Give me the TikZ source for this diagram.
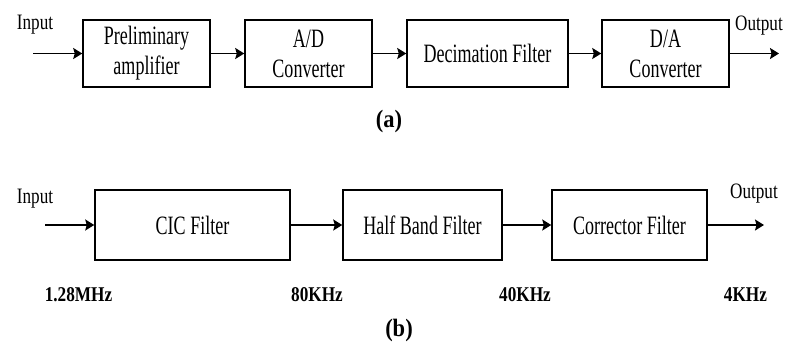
\documentclass[tikz,border=0pt]{standalone}
\usepackage{fontspec}
\setmainfont[FakeStretch=0.68]{Liberation Serif}
\newfontfamily\iofont[FakeStretch=0.78]{Liberation Serif}
\newfontfamily\freqfont[FakeStretch=0.82]{Liberation Serif}
\newfontfamily\capfont[FakeStretch=0.9]{Liberation Serif}
\usetikzlibrary{arrows.meta}
\begin{document}
\begin{tikzpicture}[x=1pt,y=-1pt,
  blk/.style={draw,line width=1.5pt,inner sep=0pt,align=center,
    font=\fontsize{26.5}{30}\selectfont},
  conn/.style={line width=1.5pt,-{Stealth[length=9pt,width=11pt,inset=1.5pt]}},
  iotext/.style={font=\iofont\fontsize{22}{24}\selectfont,inner sep=0pt},
  freq/.style={font=\freqfont\bfseries\fontsize{21}{24}\selectfont,inner sep=0pt},
  captext/.style={font=\capfont\bfseries\fontsize{25}{28}\selectfont,inner sep=0pt}]
\useasboundingbox (0,0) rectangle (786,351);
% row (a)
\node[blk,minimum width=127pt,minimum height=67pt] (pa) at (146.5,53.5) {Preliminary\\amplifier};
\node[blk,minimum width=127pt,minimum height=67pt] (ad) at (308.5,53.5) {A/D\\Converter};
\node[blk,minimum width=161pt,minimum height=67pt] (df) at (487.5,53.5) {Decimation Filter};
\node[blk,minimum width=127pt,minimum height=67pt] (da) at (665.5,53.5) {D/A\\Converter};
\coordinate (ina) at (33,53.5);
\coordinate (outa) at (779,53.5);
\draw[conn] (ina) -- (pa.west);
\draw[conn] (pa.east) -- (ad.west);
\draw[conn] (ad.east) -- (df.west);
\draw[conn] (df.east) -- (da.west);
\draw[conn] (da.east) -- (outa);
\node[iotext] (inputa) at (35,25) {Input};
\node[iotext] (outputa) at (759,26) {Output};
\node[captext] (capa) at (389,121) {(a)};
% row (b)
\node[blk,minimum width=195pt,minimum height=70pt] (cic) at (192.5,225) {CIC Filter};
\node[blk,minimum width=159pt,minimum height=70pt] (hb) at (422.5,225) {Half Band Filter};
\node[blk,minimum width=155pt,minimum height=70pt] (cf) at (629.5,225) {Corrector Filter};
\coordinate (inb) at (45,225);
\coordinate (outb) at (764,225);
\draw[conn] (inb) -- (cic.west);
\draw[conn] (cic.east) -- (hb.west);
\draw[conn] (hb.east) -- (cf.west);
\draw[conn] (cf.east) -- (outb);
\node[iotext] (inputb) at (35,199) {Input};
\node[iotext] (outputb) at (754,194) {Output};
\node[freq] (f1) at (78.5,294.5) {1.28MHz};
\node[freq] (f2) at (317,294.5) {80KHz};
\node[freq] (f3) at (525,294.5) {40KHz};
\node[freq] (f4) at (745.5,294.5) {4KHz};
\node[captext] (capb) at (399,330) {(b)};
\end{tikzpicture}
\end{document}
